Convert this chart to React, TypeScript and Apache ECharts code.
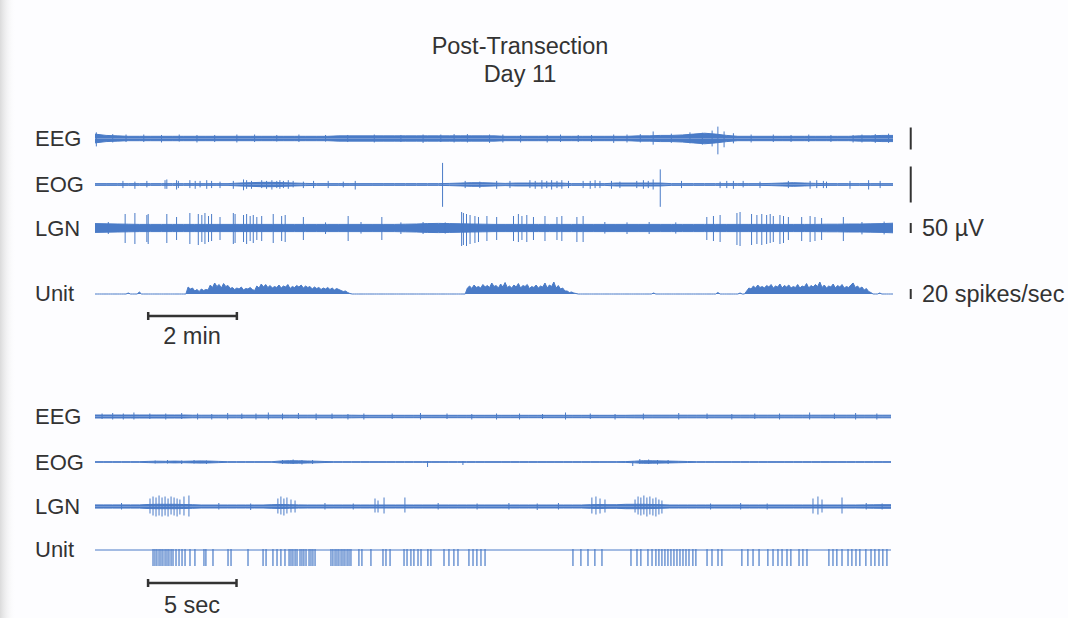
import React, { useEffect, useRef } from "react";
import * as echarts from "echarts";

// ---------------- DATA ----------------
// Upper panel: 18 minutes of record. Envelopes sampled every 0.25 min, rate every 0.05 min.
const TOP_ENV_STEP_MIN = 0.25;
const TOP_RATE_STEP_MIN = 0.05;
// Lower panel: 45 s of record. Envelopes sampled every 0.5 s.
const BOTTOM_ENV_STEP_SEC = 0.5;

// half-width of the EEG band (µV)
const eegTopAmp = [
  10, 7, 6,
  5, 5, 5, 5, 5, 5, 5, 5, 5, 5, 5, 5, 5, 5, 5, 5, 5, 5, 5,
  6, 6, 6, 6, 6, 6, 6, 6, 6, 6, 6, 6, 6, 6, 6,
  5, 5, 5, 5, 5, 5, 5, 5, 5, 5, 5, 5,
  6, 6, 7, 7, 8,
  10, 12, 10, 7,
  5, 5, 5, 5, 5, 5, 5, 5, 5, 5, 5,
  6, 6, 7, 7,
];
// [minute, upper µV, lower µV]
const eegTopSpikes = [
  [0.03, 14, -18], [0.4, 10, -9], [0.7, 9, -8], [1.1, 9, -8], [1.5, 8, -9], [1.9, 9, -7],
  [2.3, 8, -9], [2.7, 8, -8], [3.2, 9, -9], [3.6, 9, -8], [4.1, 8, -7], [4.6, 9, -8],
  [5.2, 8, -7], [5.7, 8, -8], [6.3, 9, -9], [6.9, 8, -8], [7.4, 9, -10], [7.8, 9, -8],
  [8.1, 10, -9], [8.4, 10, -9], [8.9, 9, -10], [9.2, 9, -9], [9.6, 8, -9], [10.2, 8, -9],
  [10.5, 9, -8], [10.9, 8, -8], [11.2, 8, -8], [11.7, 9, -10], [12.0, 9, -9], [12.3, 10, -9],
  [12.59, 16, -14], [13.0, 11, -10], [13.42, 14, -11], [13.7, 13, -14], [13.92, 18, -18],
  [14.05, 27, -36], [14.19, 16, -20], [14.4, 12, -11], [14.8, 9, -9], [15.3, 9, -8],
  [15.7, 8, -8], [16.1, 9, -8], [16.6, 8, -8], [17.1, 8, -9], [17.3, 9, -9], [17.6, 10, -10],
  [17.9, 11, -10],
];

const eogTopAmp = [
  1.2, 1.2, 1.2, 1.2, 1.2, 1.2, 1.2, 1.2, 1.2, 1.2, 1.2, 1.2, 1.2,
  2, 2.5, 3, 3, 2.5, 2, 1.5,
  1.2, 1.2, 1.2, 1.2, 1.2, 1.2, 1.2, 1.2, 1.2, 1.2, 1.2, 1.2,
  1.5, 2, 2.5, 2.5, 2, 1.5,
  2, 2, 2, 2, 2,
  1.2, 1.2, 1.2, 1.2,
  2, 2, 2, 2, 2,
  1.2, 1.2, 1.2, 1.2, 1.2, 1.2, 1.2, 1.2, 1.2,
  1.5, 2, 2.5, 2, 1.5,
  1.2, 1.2, 1.2, 1.2, 1.2, 1.2, 1.2,
];
const eogTopSpikes = [
  [0.63, 5, -5], [0.9, 4, -6], [1.17, 5, -4], [1.58, 6, -6], [1.62, 7, -6], [1.84, 6, -7],
  [1.88, 5, -5], [2.14, 6, -5], [2.26, 5, -6], [2.37, 5, -4], [2.52, 6, -6], [2.63, 5, -5],
  [2.82, 4, -5], [3.12, 5, -6], [3.35, 7, -8], [3.42, 6, -6], [3.53, 5, -6], [3.76, 6, -5],
  [3.87, 5, -6], [3.99, 6, -7], [4.1, 5, -5], [4.17, 6, -6], [4.25, 5, -5], [4.36, 6, -6],
  [4.47, 5, -4], [4.7, 4, -5], [4.93, 5, -5], [5.26, 5, -5], [5.6, 4, -4], [5.87, 5, -7],
  [7.84, 30, -31],
  [8.35, 5, -5], [8.68, 4, -5], [9.06, 5, -6], [9.36, 5, -5], [9.81, 6, -5], [9.93, 5, -6],
  [10.08, 6, -6], [10.19, 5, -5], [10.3, 6, -7], [10.42, 5, -5], [10.53, 6, -6], [10.68, 5, -5],
  [11.01, 5, -5], [11.17, 5, -6], [11.28, 6, -5], [11.39, 5, -5], [11.65, 5, -6], [11.84, 4, -5],
  [12.22, 5, -5], [12.37, 6, -6], [12.48, 5, -5], [12.59, 7, -7],
  [12.75, 21, -31],
  [13.23, 5, -5], [14.1, 4, -5], [14.25, 5, -5], [14.4, 5, -6], [14.62, 5, -4], [15.0, 4, -5],
  [15.64, 5, -5], [16.13, 5, -6], [16.28, 6, -5], [16.43, 5, -5], [16.5, 4, -5], [17.03, 5, -6],
  [17.45, 6, -7], [17.71, 5, -5],
];

const lgnTopAmp = [
  22, 21, 20, 19,
  18, 18, 18, 18, 18, 18, 18, 18, 18, 18, 18, 18, 18, 18, 18, 18, 18, 18, 18, 18, 18, 18, 18, 18,
  19, 20, 22, 23, 22, 21, 20, 19, 18,
  18, 18, 18, 18, 18, 18, 18, 18, 18, 18, 18, 18, 18, 18, 18, 18, 18, 18, 18, 18, 18, 18, 18, 18,
  18, 18, 18, 18, 18,
  19, 19, 20, 20, 21, 22, 24,
];
const lgnTopSpikes = [
  [0.3, 30, -30], [0.68, 70, -75], [0.9, 75, -80], [1.17, 65, -70], [1.2, 70, -80], [1.62, 70, -75],
  [1.84, 55, -60], [2.14, 75, -80], [2.33, 70, -85], [2.41, 65, -70], [2.48, 75, -80], [2.56, 60, -70],
  [2.63, 70, -65], [2.82, 55, -60], [3.12, 75, -80], [3.16, 70, -75], [3.35, 65, -70], [3.42, 70, -80],
  [3.5, 60, -65], [3.57, 65, -75], [3.65, 55, -60], [3.76, 60, -65], [4.02, 70, -75], [4.21, 60, -65],
  [4.29, 65, -70], [4.7, 55, -60], [5.2, 28, -30], [5.71, 60, -65], [6.0, 30, -28], [6.47, 55, -60],
  [6.9, 28, -30], [7.4, 30, -30], [7.9, 28, -28],
  [8.27, 80, -90], [8.31, 75, -85], [8.38, 70, -90], [8.46, 65, -80], [8.57, 60, -75], [8.65, 55, -70],
  [8.84, 60, -65], [9.06, 55, -60], [9.44, 60, -65], [9.55, 70, -70], [9.63, 60, -60], [9.74, 65, -70],
  [9.89, 55, -60], [10.15, 60, -65], [10.42, 55, -60], [10.53, 60, -65], [10.87, 55, -70], [11.01, 60, -70],
  [11.5, 30, -28], [12.0, 28, -30], [12.5, 30, -30], [13.1, 28, -28],
  [13.8, 55, -60], [13.95, 60, -65], [14.1, 65, -70], [14.48, 75, -85], [14.55, 80, -90], [14.81, 70, -85],
  [14.93, 65, -80], [15.04, 70, -85], [15.15, 65, -80], [15.23, 70, -75], [15.3, 60, -70], [15.45, 65, -80],
  [15.53, 60, -75], [15.64, 55, -60], [15.94, 55, -65], [16.13, 60, -70], [16.24, 55, -65], [16.39, 50, -60],
  [16.88, 55, -65], [17.3, 30, -32], [17.8, 32, -32],
];

// unit firing rate (spikes/sec), one value per 0.05 min
const unitTopRate = [
  0, 0, 0, 0, 0, 0, 0, 0, 0, 0, 0, 0, 0, 0, 0, 2, 0, 0, 0, 0,
  4, 0, 0, 0, 0, 0, 0, 0, 0, 0, 0, 0, 0, 0, 0, 0, 0, 0, 0, 0,
  0, 0,
  14, 10, 12, 6, 9, 5, 10, 7, 9, 8,
  18, 13, 22, 15, 19, 12, 21, 15, 17, 11,
  13, 9, 12, 10, 14, 8, 11, 10, 13, 9,
  7, 16, 12, 20, 14, 19, 13, 17, 12, 15,
  13, 18, 12, 16, 14, 19, 11, 15, 13, 17,
  14, 18, 12, 16, 13, 15, 10, 14, 11, 13,
  9, 12, 10, 13, 9, 12, 8, 11, 9, 7,
  5, 6, 3, 1,
  0, 0, 0, 0, 0, 0, 0, 0, 0, 0, 0, 0, 0, 0, 0, 0, 0, 0, 0, 0, 0, 0, 0, 0, 0, 0,
  0, 0, 0, 0, 0, 0, 0, 0, 0, 0, 0, 0, 0, 0, 0, 0, 0, 0, 0, 0, 0, 0, 0, 0, 0, 0,
  12, 16, 11, 18, 13, 15, 12, 19, 14, 17,
  13, 22, 15, 17, 12, 20, 14, 23, 13, 16,
  12, 18, 14, 21, 12, 17, 15, 19, 11, 15,
  13, 18, 12, 16, 14, 22, 12, 18, 15, 24,
  12, 17, 10, 12, 6, 6, 3, 4, 2, 1,
  0, 0, 0, 0, 0, 0, 0, 0, 0, 0, 0, 0, 0, 0, 0, 0, 0, 0, 0, 0,
  0, 0, 0, 0, 0, 0, 0, 0, 0, 0, 0, 0, 0, 0, 2, 0, 0, 0, 0, 0,
  0, 0, 0, 0, 0, 0, 0, 0, 0, 0, 0, 0, 0, 0, 0, 0, 0, 0, 0, 0,
  0, 0, 0, 3, 0, 0, 0, 0, 0, 0, 0, 0, 0, 2, 0, 0,
  6, 12, 10, 16, 12, 18, 13, 15, 12, 17,
  14, 19, 12, 16, 14, 20, 12, 17, 14, 18,
  12, 15, 13, 19, 12, 16, 14, 21, 12, 17,
  14, 19, 15, 24, 13, 18, 12, 16, 14, 20,
  12, 17, 14, 19, 12, 15, 13, 18, 22, 13,
  16, 11, 14, 8, 11, 5, 3,
  0, 0, 0, 2, 0, 0, 0, 0, 0, 0,
];

const eegBottomAmp = [
  1.5, 1.5, 1.5, 1.5, 1.5, 1.5, 1.5, 1.5, 1.5, 1.5, 1.5,
  1.3, 1.3, 1.3, 1.3, 1.3, 1.3, 1.3, 1.3, 1.3, 1.3, 1.3, 1.3, 1.3, 1.3, 1.3, 1.3, 1.3, 1.3, 1.3,
  1.2, 1.2, 1.2, 1.2, 1.2, 1.2, 1.2, 1.2, 1.2, 1.2, 1.2, 1.2, 1.2, 1.2, 1.2, 1.2,
  1.2, 1.2, 1.2, 1.2, 1.2, 1.2, 1.2, 1.2, 1.2, 1.2, 1.2, 1.2, 1.2, 1.2, 1.2,
  1.3, 1.3, 1.3, 1.3, 1.3, 1.3, 1.3, 1.3, 1.3, 1.3, 1.3, 1.3, 1.3, 1.3, 1.3,
  1.3, 1.3, 1.3, 1.3, 1.3, 1.3, 1.3, 1.3, 1.3, 1.3, 1.3, 1.3, 1.3, 1.3, 1.3,
];
const eegBottomSpikes = [
  [0.4, 3, -2.5], [1.0, 3.5, -3], [1.6, 3, -3], [2.2, 4, -3], [3.1, 3, -2.5], [4.0, 3, -3],
  [4.9, 3.5, -2.5], [5.8, 3, -3], [6.6, 2.5, -3], [7.5, 3.5, -3], [8.3, 3, -2.5], [9.1, 3, -3],
  [9.8, 4, -3], [10.6, 3, -3], [11.5, 3.5, -2.5], [12.5, 3, -3.5], [13.4, 3, -2.5], [14.3, 2.5, -3],
  [15.2, 3, -3], [16.8, 3, -2.5], [18.4, 3.5, -3], [19.9, 3, -2.5], [21.3, 2.5, -3], [22.7, 3, -3],
  [24.0, 3, -3], [25.3, 2.5, -2.5], [26.6, 4, -3], [28.0, 3, -2.5], [29.4, 2.5, -3], [31.0, 3, -3],
  [33.0, 3.5, -3], [34.6, 3, -2.5], [36.0, 2.5, -3], [37.3, 3, -2.5], [38.7, 3, -3], [40.4, 4, -3],
  [41.8, 3, -2.5], [43.0, 3.5, -3], [44.2, 3, -3],
];

const eogBottomAmp = [
  0.3, 0.3, 0.3, 0.3, 0.3, 0.3,
  0.6, 0.8, 0.7, 0.9, 0.7, 0.9, 1.1, 0.9, 0.6,
  0.3, 0.3, 0.3, 0.3, 0.3, 0.3,
  1, 1.3, 1.2, 1, 0.8, 0.5,
  0.3, 0.3, 0.3, 0.3, 0.3, 0.3, 0.3, 0.3, 0.3, 0.3, 0.3, 0.3, 0.3, 0.3, 0.3, 0.3, 0.3,
  0.3, 0.3, 0.3, 0.3, 0.3, 0.3, 0.3, 0.3, 0.3, 0.3, 0.3, 0.3, 0.3, 0.3, 0.3, 0.3,
  0.4, 0.8, 1.3, 1.2, 1.1, 0.9, 0.7, 0.5,
  0.3, 0.3, 0.3, 0.3, 0.3, 0.3, 0.3, 0.3, 0.3, 0.3, 0.3, 0.3, 0.3, 0.3, 0.3, 0.3,
  0.3, 0.3, 0.3, 0.3, 0.3, 0.3, 0.3,
];
const eogBottomSpikes = [
  [3.4, 1.5, -1.5], [4.1, 2, -1.5], [4.9, 1.5, -2], [5.6, 2, -1.5], [6.3, 1.5, -2],
  [10.6, 2, -2], [11.2, 2.5, -2], [11.7, 2, -2.5], [12.3, 2, -2],
  [18.8, 1, -5], [20.8, 1, -3], [30.4, 1, -4], [30.8, 3, -2],
  [31.3, 2.5, -2], [31.8, 2, -2.5], [32.4, 2, -2],
];

const lgnBottomAmp = [
  1.6, 1.6, 1.6, 1.6, 1.6, 1.6,
  2, 2.2, 2.2, 2.2, 2, 1.8,
  1.5, 1.5, 1.5, 1.5, 1.5, 1.5, 1.5, 1.5,
  1.8, 2, 1.8, 1.6,
  1.5, 1.5, 1.5, 1.5, 1.5, 1.5, 1.5, 1.5, 1.5, 1.5, 1.5, 1.5, 1.5, 1.5, 1.5, 1.5,
  1.5, 1.5, 1.5, 1.5, 1.5, 1.5, 1.5, 1.5, 1.5, 1.5, 1.5, 1.5, 1.5, 1.5, 1.5, 1.5,
  1.8, 2, 1.8,
  1.8, 2.2, 2.2, 2.2, 2, 1.8,
  1.5, 1.5, 1.5, 1.5, 1.5, 1.5, 1.5, 1.5, 1.5, 1.5, 1.5,
  1.5, 1.5, 1.5, 1.5, 1.5, 1.5, 1.5, 1.5, 1.5, 1.5, 1.5,
  1.6, 1.7, 1.8, 1.8,
];
const lgnBottomSpikes = [
  [1.5, 3.5, -3], [3.11, 8, -7], [3.28, 10, -9], [3.45, 9, -10], [3.62, 11, -9], [3.79, 9, -10],
  [3.96, 10, -9], [4.13, 8, -10], [4.3, 10, -8], [4.47, 9, -9], [4.64, 8, -10], [4.8, 7, -8],
  [5.03, 10, -9], [5.31, 11, -10], [7.0, 3.5, -3], [8.8, 3, -3.5],
  [10.34, 8, -7], [10.51, 10, -8], [10.68, 8, -9], [10.85, 9, -7], [11.08, 7, -6], [11.31, 6, -6],
  [13.0, 3.5, -3], [14.6, 3, -3],
  [15.83, 8, -6], [16.0, 6, -6], [16.34, 9, -7], [17.52, 9, -6],
  [19.4, 3.5, -3], [21.6, 3, -3], [23.4, 3.5, -3], [25.0, 3, -3.5], [26.2, 3.5, -3],
  [28.09, 9, -7], [28.32, 10, -8], [28.55, 8, -7], [28.83, 7, -6],
  [30.53, 7, -6], [30.7, 10, -8], [30.86, 9, -9], [31.03, 11, -8], [31.2, 9, -10], [31.37, 10, -8],
  [31.54, 8, -9], [31.71, 9, -10], [31.88, 7, -8], [32.05, 6, -7],
  [34.8, 3, -3], [36.5, 3.5, -3], [38.0, 3, -3],
  [40.59, 8, -7], [40.87, 10, -8], [41.1, 7, -6], [42.23, 9, -7], [43.6, 3.5, -3], [44.5, 3, -3],
];

// times (s) of the single-unit spikes in the lower panel
const unitBottomSpikeTimes = [
  3.28, 3.39, 3.5, 3.62, 3.73, 3.84, 3.96, 4.07, 4.18, 4.3, 4.41, 4.58, 4.75, 4.92, 5.09,
  5.37, 5.65, 6.16, 6.27, 6.67, 7.52, 7.69, 8.65, 9.5, 9.67,
  10.06, 10.29, 10.51, 10.74, 10.97, 11.08, 11.19, 11.31, 11.42, 11.59, 11.7, 11.81, 11.93,
  12.1, 12.21, 12.32, 12.44,
  13.34, 13.45, 13.57, 13.68, 13.79, 13.91, 14.02, 14.13, 14.25, 14.36, 14.47,
  14.92, 15.09, 15.6, 16.28, 16.45, 16.68, 17.47, 17.64, 17.86, 18.03, 18.26, 18.43,
  18.82, 18.99, 19.73, 20.01, 20.29, 20.52, 21.14, 21.37, 21.59, 21.82, 22.05,
  27.02, 27.47, 27.87, 28.26, 28.66, 30.3, 30.64, 30.86,
  31.26, 31.49, 31.71, 31.88, 32.05, 32.22, 32.39, 32.56, 32.73, 32.9, 33.07, 33.24, 33.41,
  33.58, 33.8, 33.97, 34.6, 34.88, 35.22, 35.44, 36.57, 36.91, 37.2, 37.54,
  38.04, 38.33, 38.61, 38.84, 39.12, 39.34, 39.8, 40.02, 40.25,
  41.49, 41.72, 41.94, 42.23, 42.57, 42.79, 43.02, 43.24, 43.58, 43.87, 44.09, 44.32, 44.54, 44.77,
];
const UNIT_SPIKE_TOP = 1;
const UNIT_SPIKE_BOTTOM = -16;

const channelLabels = ["EEG", "EOG", "LGN", "Unit"];

// ---------------- LAYOUT / STYLE ----------------
const BLUE = "#4a7bc7";
const INK = "#333333";
const LABEL_FONT = '22px "Liberation Sans", Arial, sans-serif';
const BIG_FONT = '23.5px "Liberation Sans", Arial, sans-serif';
const LEFT = 95;
const TOP_XMAX = 19; // minutes (trace occupies 0..18)
const TOP_PX_PER_UNIT = 798 / 18;
const BOT_XMAX = 45; // seconds
const BOT_PX_PER_UNIT = 796 / 45;

function buildOption() {
  const grid: any[] = [];
  const xAxis: any[] = [];
  const yAxis: any[] = [];
  const series: any[] = [];

  const addGrid = (panel: "top" | "bottom", top: number, height: number, ymin: number, ymax: number) => {
    const idx = grid.length;
    const xmax = panel === "top" ? TOP_XMAX : BOT_XMAX;
    const width = panel === "top" ? TOP_XMAX * TOP_PX_PER_UNIT : BOT_XMAX * BOT_PX_PER_UNIT;
    grid.push({ left: LEFT, top, width, height });
    xAxis.push({ type: "value", gridIndex: idx, min: 0, max: xmax, show: false });
    yAxis.push({ type: "value", gridIndex: idx, min: ymin, max: ymax, show: false });
    return idx;
  };
  const symGrid = (panel: "top" | "bottom", center: number, k: number, R: number) =>
    addGrid(panel, center - R * k, 2 * R * k, -R, R);

  const band = (idx: number, amp: number[], step: number, lw = 1) => {
    const up = amp.map((a, i) => [i * step, a]);
    const dn = amp.map((a, i) => [i * step, -a]);
    [up, dn].forEach((d) =>
      series.push({
        type: "line", xAxisIndex: idx, yAxisIndex: idx, data: d, symbol: "none", silent: true,
        lineStyle: { color: BLUE, width: lw }, areaStyle: { color: BLUE, opacity: 1 }, z: 2,
      })
    );
  };
  const spikes = (idx: number, data: number[][], color = BLUE, lw = 1) => {
    series.push({
      type: "custom", xAxisIndex: idx, yAxisIndex: idx, data, silent: true, z: 3,
      encode: { x: 0, y: [1, 2] },
      renderItem: (_p: any, api: any) => {
        const a = api.coord([api.value(0), api.value(1)]);
        const b = api.coord([api.value(0), api.value(2)]);
        return { type: "line", shape: { x1: a[0], y1: a[1], x2: b[0], y2: b[1] }, style: { stroke: color, lineWidth: lw } };
      },
    });
  };
  const vBar = (idx: number, t: number, half: number) =>
    series.push({
      type: "line", xAxisIndex: idx, yAxisIndex: idx, data: [[t, -half], [t, half]], symbol: "none", silent: true,
      lineStyle: { color: INK, width: 2 },
    });
  const hBar = (idx: number, t0: number, t1: number) =>
    series.push({
      type: "line", xAxisIndex: idx, yAxisIndex: idx, silent: true, symbol: "none",
      data: [[t0, -0.8], [t0, 0.8], [t0, 0], [t1, 0], [t1, 0.8], [t1, -0.8]],
      lineStyle: { color: INK, width: 2.5 },
    });

  // ----- upper panel -----
  const SB_T = 18.4;
  const gEEG = symGrid("top", 138.5, 22 / 50, 60);
  band(gEEG, eegTopAmp, TOP_ENV_STEP_MIN);
  spikes(gEEG, eegTopSpikes);
  vBar(gEEG, SB_T, 25);

  const gEOG = symGrid("top", 184.5, 36 / 50, 45);
  band(gEOG, eogTopAmp, TOP_ENV_STEP_MIN);
  spikes(gEOG, eogTopSpikes);
  vBar(gEOG, SB_T, 25);

  const gLGN = symGrid("top", 228, 10 / 50, 150);
  band(gLGN, lgnTopAmp, TOP_ENV_STEP_MIN);
  spikes(gLGN, lgnTopSpikes);
  vBar(gLGN, SB_T, 25);

  const gUnit = addGrid("top", 294 - 40 * 0.5, 30, -20, 40);
  series.push({
    type: "line", xAxisIndex: gUnit, yAxisIndex: gUnit, symbol: "none", silent: true,
    data: unitTopRate.map((v, i) => [i * TOP_RATE_STEP_MIN, v]),
    lineStyle: { color: BLUE, width: 1 }, areaStyle: { color: BLUE, opacity: 1 },
  });
  vBar(gUnit, SB_T, 10);

  const gTopScale = addGrid("top", 311, 10, -1, 1);
  hBar(gTopScale, 1.2, 3.2);

  // ----- lower panel -----
  const bEEG = symGrid("bottom", 416.5, 1, 20);
  band(bEEG, eegBottomAmp, BOTTOM_ENV_STEP_SEC);
  spikes(bEEG, eegBottomSpikes);

  const bEOG = symGrid("bottom", 462, 1, 20);
  band(bEOG, eogBottomAmp, BOTTOM_ENV_STEP_SEC);
  spikes(bEOG, eogBottomSpikes);

  const bLGN = symGrid("bottom", 506.5, 1, 20);
  band(bLGN, lgnBottomAmp, BOTTOM_ENV_STEP_SEC);
  spikes(bLGN, lgnBottomSpikes);

  const bUnit = addGrid("bottom", 540, 30, -20, 10);
  series.push({
    type: "line", xAxisIndex: bUnit, yAxisIndex: bUnit, symbol: "none", silent: true,
    data: [[0, 0], [BOT_XMAX, 0]], lineStyle: { color: BLUE, width: 1 },
  });
  spikes(
    bUnit,
    unitBottomSpikeTimes.map((t) => [t, UNIT_SPIKE_TOP, UNIT_SPIKE_BOTTOM]),
    BLUE,
    1.2
  );

  const gBotScale = addGrid("bottom", 578, 10, -1, 1);
  hBar(gBotScale, 3, 8);

  // ----- texts -----
  const txt = (text: string, x: number, y: number, font: string, align = "left") => ({
    type: "text", x, y, silent: true,
    style: { text, font, fill: INK, textAlign: align, textVerticalAlign: "middle" },
  });
  const topY = [138, 184, 228, 293];
  const botY = [416, 462, 506, 549];
  const graphic: any[] = [
    {
      type: "rect", left: 0, top: 0, shape: { x: 0, y: 0, width: 16, height: 618 }, silent: true, z: -10,
      style: {
        fill: new echarts.graphic.LinearGradient(0, 0, 1, 0, [
          { offset: 0, color: "rgba(215,215,215,0.9)" },
          { offset: 1, color: "rgba(255,255,255,0)" },
        ]),
      },
    },
    txt("Post-Transection", 520, 46, BIG_FONT, "center"),
    txt("Day 11", 520, 74, BIG_FONT, "center"),
    ...channelLabels.map((l, i) => txt(l, 35, topY[i], LABEL_FONT)),
    ...channelLabels.map((l, i) => txt(l, 35, botY[i], LABEL_FONT)),
    txt("50 \u00b5V", 922, 228, BIG_FONT),
    txt("20 spikes/sec", 922, 294, BIG_FONT),
    txt("2 min", 192, 336, BIG_FONT, "center"),
    txt("5 sec", 192, 605, BIG_FONT, "center"),
  ];

  return {
    animation: false,
    backgroundColor: "#fdfdff",
    grid, xAxis, yAxis, series, graphic,
  };
}

export default function App() {
  const ref = useRef<HTMLDivElement>(null);
  useEffect(() => {
    const chart = echarts.init(ref.current!, null, { renderer: "svg" });
    chart.setOption(buildOption() as any);
    return () => chart.dispose();
  }, []);
  return <div ref={ref} style={{ position: "fixed", left: 0, top: 0, width: 1068, height: 618 }} />;
}
